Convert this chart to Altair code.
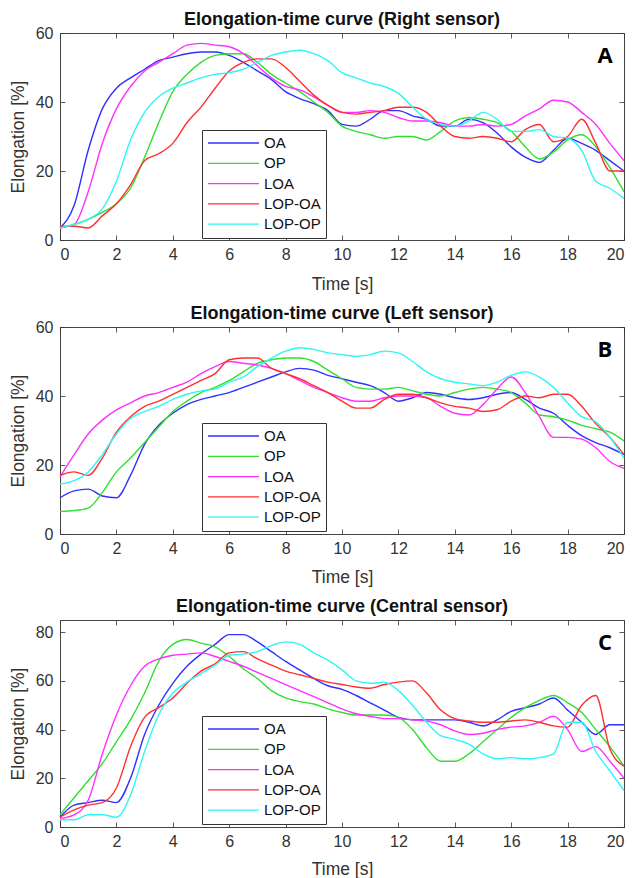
import altair as alt
import pandas as pd

series = ["OA", "OP", "LOA", "LOP-OA", "LOP-OP"]
colors = ["#3030ff", "#30e030", "#ff30ff", "#ff3030", "#30f5f5"]
time_s = [i * 0.5 for i in range(41)]
x_ticks = [0, 2, 4, 6, 8, 10, 12, 14, 16, 18, 20]

# Panel A - Right sensor
a_oa = [3.5, 10, 26, 38, 44, 47, 49.5, 52, 53, 54, 54.5, 54.5, 53.5, 51.5, 49, 46.5, 43, 41, 39.5, 37.5,
        33.5, 33, 35, 37.5, 37.5, 36, 35, 33, 33, 35, 34, 31, 27, 24, 22.5, 26, 29.5, 28, 26, 23, 20]
a_op = [3.5, 4.5, 6, 8, 10.5, 15, 24, 34, 43, 48, 51.5, 53.5, 54, 54, 51.5, 48, 45.5, 43, 40, 37,
        33, 31.5, 30.5, 29.5, 30, 30, 29, 31.5, 34.5, 35.5, 35, 34, 31.5, 27, 23.5, 25.5, 29, 30.5, 27, 21, 14]
a_loa = [3.5, 4.5, 14, 28, 38, 44.5, 49, 51.5, 54, 56.5, 57, 56.5, 56, 54, 50.5, 47, 44.5, 43.5, 41.5, 39,
         37, 37, 37.5, 37, 35.5, 34.5, 34.5, 34, 33, 33, 33.5, 33, 33.5, 36, 38, 40.5, 40, 37, 33.5, 28, 23]
a_lopoa = [4, 4, 3.5, 7, 10.5, 16, 23, 25, 28, 34, 38.5, 44, 49, 51.5, 52.5, 52.5, 50, 46, 42, 39,
           37, 36.5, 37, 37.5, 38.5, 38.5, 37, 33, 30, 29.5, 30, 29.5, 28.5, 32, 33.5, 28.5, 30, 35, 28, 20, 20]
a_lopop = [3.5, 4.5, 6, 9, 17, 29, 37, 41.5, 44, 45.5, 47, 48, 48.5, 49.5, 51.5, 53.5, 54.5, 55, 54, 52,
           48.5, 47, 45.5, 44.5, 42.5, 38.5, 35, 33.5, 33, 34.5, 37, 35, 31.5, 31.5, 32, 30, 29.5, 26, 17, 15, 12]

# Panel B - Left sensor
b_oa = [10.5, 12.5, 13, 11, 10.5, 17, 26, 31.5, 35, 37.5, 39, 40, 41, 42.5, 44, 45.5, 47, 48, 47.5, 46,
        45, 44, 43, 41, 38.5, 39.5, 41, 40.5, 39.5, 39, 39.5, 40.5, 41, 39, 36.5, 35, 31.5, 28.5, 26.5, 25, 23]
b_op = [6.5, 6.8, 7.5, 12, 18, 22, 26.5, 31, 35.5, 38.5, 41, 42.5, 44.5, 47, 49.5, 50.5, 51, 51, 50, 47.5,
        45, 42.5, 42, 42, 42.5, 41.5, 40.5, 40, 41, 42, 42.5, 42, 41, 38, 34.5, 34, 33, 31.5, 30.5, 29.5, 27]
b_loa = [16.5, 23, 29, 33, 36, 38, 40, 41, 42.5, 44, 46.5, 48.5, 50, 49.5, 49, 48, 46.5, 44.5, 42.5, 41,
         39.5, 38.5, 38.5, 39.5, 40, 40, 39.5, 37, 35, 34.5, 37.5, 42, 45.5, 41, 34, 28, 28, 27.5, 25, 21, 19]
b_lopoa = [17, 18, 17, 22, 29.5, 34, 37, 38.5, 40.5, 42.5, 44.5, 46.5, 50.5, 51, 51, 48, 46.5, 45, 43, 41,
           38.5, 36.5, 36.5, 39, 40.5, 40.5, 39.5, 38, 37, 36.5, 35.5, 36, 38.5, 40, 39.5, 40.5, 40.5, 37, 32, 28, 23]
b_lopop = [14.5, 15.5, 18, 23, 29, 33.5, 35.5, 37, 39, 40.5, 41.5, 42, 44, 45.5, 48.5, 51, 53, 54, 53.5, 52.5,
           52, 51.5, 52, 53, 52.5, 50, 47, 45, 44, 43.5, 43, 44, 46, 47, 45.5, 42.5, 38, 34, 32.5, 28, 22]

# Panel C - Central sensor
c_oa = [4, 9, 10, 11, 10, 20, 38, 50, 59, 66, 71, 75, 79, 79, 76, 72, 68, 64.5, 61, 58,
        56.5, 54, 51, 48, 45, 44, 44, 44, 44, 43, 41.5, 44, 47.5, 49, 50.5, 53, 48, 43, 38, 42, 42]
c_op = [5, 12, 19, 26, 35, 44, 55, 68, 75, 77, 75.5, 74, 70, 65, 61, 56, 53, 51.5, 50.5, 48.5,
        47, 46, 46, 46, 45, 40, 32.5, 27, 27, 30, 35, 40, 45, 49, 52, 54, 51, 47, 40, 33, 25]
c_loa = [3.5, 5, 11, 30, 46, 58, 66, 69, 70.5, 71, 71.5, 70, 68, 66, 63.5, 61, 58.5, 56, 53.5, 51,
         48.5, 46.5, 45.5, 44.5, 44.5, 44, 43.5, 42, 39.5, 38, 38.5, 40, 41, 41.5, 43, 45.5, 40, 31, 33, 27, 20]
c_lopoa = [4, 7, 9, 10, 16, 33, 45, 49, 53, 59, 64, 67, 71.5, 72, 69, 66.5, 64, 62.5, 61, 59.5,
           58.5, 57.5, 57, 58.5, 59.5, 60, 55, 48, 44.5, 43.5, 43, 43, 43.5, 44, 43, 41.5, 41, 50, 54, 32, 25]
c_lopop = [3, 3, 5, 5, 4, 13, 31, 46, 55, 59.5, 63, 66.5, 70.5, 71, 72, 74.5, 76, 75, 71.5, 68.5,
           64.5, 60, 59, 59.5, 56, 50, 43, 37.5, 36, 34, 30, 28, 28.5, 28, 28.5, 30, 43, 43, 31, 23, 15]

# (title, letter, series data, y domain, y ticks, legend y, title offset, x-title padding)
panels = [
    ("Elongation-time curve (Right sensor)", "A", [a_oa, a_op, a_loa, a_lopoa, a_lopop], [0, 60], [0, 20, 40, 60], 97, -4, 13),
    ("Elongation-time curve (Left sensor)", "B", [b_oa, b_op, b_loa, b_lopoa, b_lopop], [0, 60], [0, 20, 40, 60], 96, -4, 12),
    ("Elongation-time curve (Central sensor)", "C", [c_oa, c_op, c_loa, c_lopoa, c_lopop], [0, 85], [0, 20, 40, 60, 80], 96, 4, 11),
]

FONT = "Liberation Sans"
W, H = 564, 207


def make_panel(title, letter, data, ydom, yticks, legy, toff, xtp):
    rows = []
    for name, vals in zip(series, data):
        for t, v in zip(time_s, vals):
            rows.append({"t": t, "v": v, "series": name})
    df = pd.DataFrame(rows)
    xscale = alt.Scale(domain=[0, 20], nice=False, zero=False)
    yscale = alt.Scale(domain=ydom, nice=False)
    base = alt.Chart(df)
    lines = base.mark_line(strokeWidth=1.4, interpolate="monotone").encode(
        x=alt.X("t:Q", scale=xscale, title="Time [s]",
                axis=alt.Axis(values=x_ticks, orient="bottom", offset=-5, tickSize=5, domain=False,
                              grid=False, labelPadding=6, titlePadding=xtp, minExtent=0)),
        y=alt.Y("v:Q", scale=yscale, title="Elongation [%]",
                axis=alt.Axis(values=yticks, orient="left", offset=-5, tickSize=5, domain=False,
                              grid=False, labelPadding=7, titlePadding=8, minExtent=0)),
        color=alt.Color("series:N", sort=series,
                        scale=alt.Scale(domain=series, range=colors),
                        legend=alt.Legend(orient="none", legendX=142, legendY=legy, title=None,
                                          symbolType="stroke", symbolSize=2600, symbolStrokeWidth=1.3,
                                          clipHeight=16,
                                          labelFontSize=15, labelFont=FONT, labelColor="#111",
                                          rowPadding=4.3, padding=5, labelOffset=4,
                                          strokeColor="#333", fillColor="white")),
        detail="series:N",
    )
    frame = base.mark_line(opacity=0).encode(
        x=alt.X("t:Q", scale=xscale, title=None,
                axis=alt.Axis(values=x_ticks, orient="top", offset=-5, tickSize=5, domain=False,
                              grid=False, labels=False, minExtent=0, maxExtent=0)),
        y=alt.Y("v:Q", scale=yscale, title=None,
                axis=alt.Axis(values=yticks, orient="right", offset=-5, tickSize=5, domain=False,
                              grid=False, labels=False, minExtent=0, maxExtent=0)),
    )
    lab = alt.Chart(pd.DataFrame({"lab": [letter]})).mark_text(
        font="Open Sans", fontWeight="bold", fontSize=22, color="black", align="center", baseline="middle"
    ).encode(x=alt.value(545), y=alt.value(23), text="lab:N")
    return alt.layer(lines, frame, lab).resolve_axis(x="independent", y="independent").properties(
        width=W, height=H,
        title=alt.Title(title, fontSize=18, fontWeight="bold", font=FONT, color="#111",
                        offset=toff, frame="group"),
    )


charts = [make_panel(*p) for p in panels]
chart = alt.vconcat(*charts, spacing=11).resolve_scale(color="independent").properties(
    padding={"left": 0, "top": 2, "right": 0, "bottom": 0}
).configure_view(
    stroke="#444", strokeWidth=1
).configure_axis(
    labelFont=FONT, titleFont=FONT, labelFontSize=16, titleFontSize=17.5, labelColor="#333",
    titleColor="#333", tickColor="#333", tickWidth=0.8, titleFontWeight="normal"
)

chart.save("out.html", embed_options={"renderer": "svg", "actions": False})
